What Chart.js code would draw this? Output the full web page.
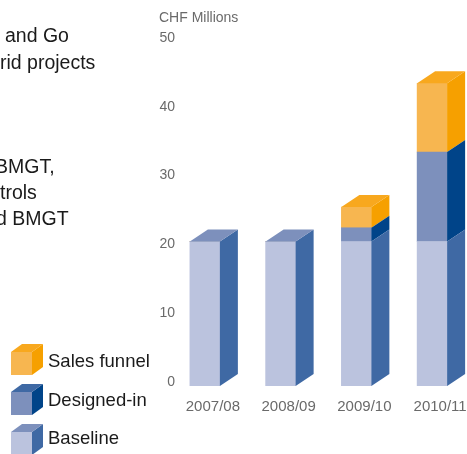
<!DOCTYPE html>
<html lang="en">
<head>
  <meta charset="UTF-8">
  <title>CHF Millions</title>
  <script src="https://cdn.jsdelivr.net/npm/chart.js"></script>
  <style>
    html, body {
      margin: 0;
      background: #fff;
      overflow: hidden;
    }
    #wrap {
      width: 467px;
      height: 454px;
      overflow: hidden;
    }
    canvas {
      display: block;
    }
  </style>
</head>
<body>

<div id="wrap"><canvas id="chart" width="490" height="454"></canvas></div>

<script>
  const years = ['2007/08', '2008/09', '2009/10', '2010/11'];
  const baseline = [21, 21, 21, 21];
  const designedIn = [0, 0, 2, 13];
  const salesFunnel = [0, 0, 3, 10];
  const yTicks = [0, 10, 20, 30, 40, 50];

  // front, side, top face of each block
  const baselineColors = ['#bbc3de', '#3f69a4', '#7d90bc'];
  const designedColors = ['#7d90bc', '#004489', '#3f69a4'];
  const salesColors = ['#f7b650', '#f6a000', '#f8a81e'];

  const sideNotes = [
    ['and Go', 5, 42],
    ['rid projects', 0, 69],
    ['BMGT,', -5, 173],
    ['trols', 0, 199],
    ['d BMGT', -4, 225]
  ];
  const legendRows = [
    ['Sales funnel', salesColors, 352, 367],
    ['Designed-in', designedColors, 392, 406],
    ['Baseline', baselineColors, 432, 444]
  ];

  const shiftX = -8, shiftY = 4, depthX = 18, depthY = 12;

  function face(ctx, color, pts) {
    ctx.fillStyle = color;
    ctx.beginPath();
    pts.forEach((p, i) => i ? ctx.lineTo(p[0], p[1]) : ctx.moveTo(p[0], p[1]));
    ctx.closePath();
    ctx.fill();
  }

  // bars are drawn by chart.js, this moves them forward and adds the side and top
  const blocks = {
    id: 'blocks',
    beforeDatasetDraw(chart) {
      chart.ctx.save();
      chart.ctx.translate(shiftX, shiftY);
    },
    afterDatasetDraw(chart, args) {
      const ctx = chart.ctx;
      const colors = chart.data.datasets[args.index].faceColors;
      args.meta.data.forEach((bar, i) => {
        const h = bar.base - bar.y;
        if (h <= 0) return;
        const r = bar.x + bar.width / 2, l = bar.x - bar.width / 2;
        face(ctx, colors[1], [[r, bar.y], [r + depthX, bar.y - depthY], [r + depthX, bar.base - depthY], [r, bar.base]]);
        const above = chart.data.datasets.slice(args.index + 1).some(d => d.data[i] > 0);
        if (!above) {
          face(ctx, colors[2], [[l, bar.y], [l + depthX, bar.y - depthY], [r + depthX, bar.y - depthY], [r, bar.y]]);
        }
      });
      ctx.restore();
    },
    afterDraw(chart) {
      const ctx = chart.ctx;
      ctx.save();
      ctx.textBaseline = 'alphabetic';
      ctx.fillStyle = '#6a6a6a';
      ctx.font = '14px "Liberation Sans", sans-serif';
      ctx.fillText('CHF Millions', 159, 22);

      ctx.fillStyle = '#1a1a1a';
      ctx.font = '19.5px "Liberation Sans", sans-serif';
      sideNotes.forEach(n => ctx.fillText(n[0], n[1], n[2]));

      ctx.font = '18.5px "Liberation Sans", sans-serif';
      legendRows.forEach(row => {
        const c = row[1], y = row[2], x = 11, w = 21, h = 23;
        face(ctx, c[0], [[x, y], [x + w, y], [x + w, y + h], [x, y + h]]);
        face(ctx, c[1], [[x + w, y], [x + w + 11, y - 8], [x + w + 11, y + h - 8], [x + w, y + h]]);
        face(ctx, c[2], [[x, y], [x + 11, y - 8], [x + w + 11, y - 8], [x + w, y]]);
        ctx.fillStyle = '#1a1a1a';
        ctx.fillText(row[0], 48, row[3]);
      });
      ctx.restore();
    }
  };

  new Chart(document.getElementById('chart'), {
    type: 'bar',
    data: {
      labels: years,
      datasets: [
        { label: 'Baseline', data: baseline, backgroundColor: baselineColors[0], faceColors: baselineColors },
        { label: 'Designed-in', data: designedIn, backgroundColor: designedColors[0], faceColors: designedColors },
        { label: 'Sales funnel', data: salesFunnel, backgroundColor: salesColors[0], faceColors: salesColors }
      ]
    },
    options: {
      responsive: false,
      animation: false,
      barThickness: 30,
      layout: { padding: { top: 38, right: 12 } },
      plugins: {
        legend: { display: false },
        tooltip: { enabled: false }
      },
      scales: {
        x: {
          stacked: true,
          grid: { display: false, drawTicks: false },
          border: { display: false },
          afterFit(scale) { scale.height = 72; },
          ticks: {
            padding: 16,
            maxRotation: 0,
            color: '#6a6a6a',
            font: { family: '"Liberation Sans", sans-serif', size: 15 }
          }
        },
        y: {
          stacked: true,
          min: 0,
          max: 50,
          grid: { display: false, drawTicks: false },
          border: { display: false },
          afterFit(scale) { scale.width = 175; },
          afterBuildTicks(scale) { scale.ticks = yTicks.map(v => ({ value: v })); },
          ticks: {
            padding: 0,
            color: '#6a6a6a',
            font: { family: '"Liberation Sans", sans-serif', size: 14 }
          }
        }
      }
    },
    plugins: [blocks]
  });
</script>

</body>
</html>
